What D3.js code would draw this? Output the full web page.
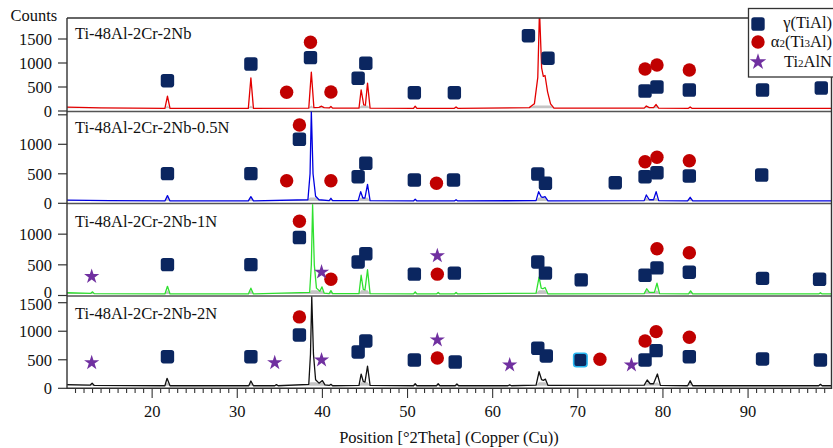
<!DOCTYPE html>
<html>
<head>
<meta charset="utf-8">
<script src="https://cdn.jsdelivr.net/npm/d3@7"></script>
<style>
  body { margin: 0; background: #fff; }
  svg text { font-family: "Liberation Serif", "Times New Roman", serif; fill: #111; }
</style>
</head>
<body>
<svg id="chart" width="833" height="448"></svg>
<script>
// panel names and x ticks
var panelNames = ["Ti-48Al-2Cr-2Nb", "Ti-48Al-2Cr-2Nb-0.5N", "Ti-48Al-2Cr-2Nb-1N", "Ti-48Al-2Cr-2Nb-2N"];
var xTickLabels = [20, 30, 40, 50, 60, 70, 80, 90];
var legendLabels = ["γ(TiAl)", "α2(Ti3Al)", "Ti2AlN"];

// diffraction patterns, [2theta, counts]
var pattern1 = [[10,80],[14,65],[21.5,55],[21.8,310],[22.1,55],[31.3,55],[31.6,690],[31.9,55],[38.4,60],[38.7,810],[39.0,70],
  [39.6,75],[39.9,100],[40.2,70],[40.8,65],[41.0,95],[41.2,60],[44.3,60],[44.55,440],[44.85,130],[45.05,120],[45.3,580],[45.6,60],
  [50.7,55],[50.9,100],[51.1,55],[55.5,55],[55.7,85],[55.9,55],[64.3,70],[64.9,150],[65.3,700],[65.5,2100],[65.75,900],[65.95,720],
  [66.15,740],[66.45,400],[66.8,150],[67.2,60],[77.8,60],[78.05,105],[78.4,70],[78.9,70],[79.2,135],[79.5,60],[83.0,55],[83.2,85],
  [83.4,55],[99.8,55]];
var pattern2 = [[10,55],[15,45],[21.5,40],[21.8,130],[22.1,40],[31.3,40],[31.6,112],[31.9,40],[38.3,60],[38.55,500],[38.7,1560],
  [38.9,500],[39.2,120],[39.6,60],[40.8,45],[41.0,85],[41.2,45],[44.2,45],[44.5,197],[44.75,90],[45.0,90],[45.3,322],[45.6,45],
  [50.7,40],[50.9,70],[51.1,40],[55.5,40],[55.7,60],[55.9,40],[65.1,45],[65.4,197],[65.7,110],[65.9,100],[66.15,112],[66.5,40],
  [77.8,45],[78.05,141],[78.4,60],[78.9,60],[79.2,197],[79.5,45],[82.9,40],[83.2,102],[83.5,40],[99.8,40]];
var pattern3 = [[10,45],[12.8,35],[13.0,60],[13.2,30],[21.5,25],[21.8,150],[22.1,25],[31.3,25],[31.6,120],[31.9,25],[38.5,50],
  [38.7,500],[38.85,1480],[39.05,500],[39.3,120],[39.7,70],[39.95,140],[40.2,40],[40.8,30],[41.0,80],[41.2,30],[44.3,30],
  [44.55,330],[44.8,100],[45.0,90],[45.3,420],[45.6,30],[50.7,25],[50.9,60],[51.1,25],[53.4,25],[53.6,50],[53.8,25],[55.5,25],
  [55.7,50],[55.9,25],[65.1,40],[65.45,300],[65.7,120],[65.9,110],[66.15,130],[66.5,25],[77.8,30],[78.1,110],[78.4,50],[79.0,50],
  [79.3,200],[79.6,30],[83.0,25],[83.25,75],[83.5,25],[98.3,25],[98.5,45],[98.7,25],[99.8,25]];
var pattern4 = [[10,65],[12.7,55],[12.95,90],[13.2,50],[21.5,45],[21.75,175],[22.1,45],[31.35,45],[31.6,128],[31.9,45],[34.4,45],
  [34.6,65],[34.8,45],[38.4,70],[38.6,600],[38.75,1600],[38.95,600],[39.2,150],[39.6,90],[40.0,135],[40.3,60],[40.8,50],[41.0,70],
  [41.2,45],[44.3,50],[44.55,250],[44.8,120],[45.0,110],[45.3,390],[45.6,50],[50.7,45],[50.9,80],[51.1,45],[53.4,45],[53.6,80],
  [53.8,45],[55.6,45],[55.8,75],[56.0,45],[61.8,45],[62.0,60],[62.2,45],[65.1,55],[65.45,290],[65.75,150],[65.95,140],[66.2,160],
  [66.5,50],[77.8,55],[78.15,145],[78.5,80],[78.9,80],[79.35,250],[79.7,50],[82.9,45],[83.2,133],[83.5,45],[98.3,45],[98.5,70],
  [98.7,45],[99.8,45]];

// phase markers, [2theta, counts]
var gamma1 = [[21.8,631],[31.6,979],[38.6,1111],[44.2,681],[45.1,994],[50.8,381],[55.5,381],[64.2,1569],[66.5,1098],
  [77.9,417],[79.3,500],[83.1,437],[91.7,437],[98.6,479]];
var alpha1 = [[35.8,390],[38.6,1431],[41.0,396],[77.9,875],[79.3,958],[83.1,854]];
var gamma2 = [[21.8,503],[31.6,503],[37.3,1085],[44.2,451],[45.1,678],[50.8,395],[55.4,395],[65.3,497],[66.2,339],
  [74.4,349],[77.9,451],[79.3,519],[83.1,463],[91.6,480]];
var alpha2 = [[35.8,383],[37.3,1327],[41.0,383],[53.4,339],[77.9,705],[79.3,780],[83.1,722]];
var gamma3 = [[21.8,503],[31.6,503],[37.3,945],[44.2,547],[45.1,680],[50.8,348],[55.5,365],[65.3,547],[66.2,365],
  [70.4,255],[77.9,330],[79.3,450],[83.1,380],[91.7,280],[98.4,265]];
var alpha3 = [[37.3,1210],[41.0,265],[53.5,348],[79.3,763],[83.1,697]];
var nitride3 = [[12.9,310],[39.9,381],[53.5,647]];
var gamma4 = [[21.8,554],[31.6,554],[37.3,935],[44.2,637],[45.1,830],[50.8,496],[55.6,461],[65.3,702],[66.3,567],
  [70.3,496],[77.9,496],[79.2,660],[83.1,554],[91.7,514],[98.5,496]];
var alpha4 = [[37.3,1251],[53.5,532],[72.6,509],[77.9,830],[79.2,993],[83.1,895]];
var nitride4 = [[12.9,449],[34.4,449],[39.9,496],[53.5,848],[62.0,409],[76.3,409]];

var navy = "#0b2660", red = "#c00000", purple = "#7030a0";
var sq = 13.4, cr = 6.7;

var svg = d3.select("#chart");
var x = d3.scaleLinear().domain([10, 99.8]).range([67, 831.5]);

var panels = [
  {name: panelNames[0], data: pattern1, gamma: gamma1, alpha: alpha1, nitride: [], color: "#e30000", bg: 55,
   y: d3.scaleLinear().domain([0, 1500]).range([111, 39]), top: 18, bottom: 111.5, ticks: [0, 500, 1000, 1500], labelY: 38.5},
  {name: panelNames[1], data: pattern2, gamma: gamma2, alpha: alpha2, nitride: [], color: "#0000e0", bg: 40,
   y: d3.scaleLinear().domain([0, 1500]).range([203.3, 114.8]), top: 111.5, bottom: 203.5, ticks: [0, 500, 1000], labelY: 133},
  {name: panelNames[2], data: pattern3, gamma: gamma3, alpha: alpha3, nitride: nitride3, color: "#2fe02f", bg: 25,
   y: d3.scaleLinear().domain([0, 1500]).range([295.5, 203.5]), top: 203.5, bottom: 296, ticks: [0, 500, 1000], labelY: 226.5},
  {name: panelNames[3], data: pattern4, gamma: gamma4, alpha: alpha4, nitride: nitride4, color: "#111", bg: 45,
   y: d3.scaleLinear().domain([0, 1500]).range([388.3, 302.7]), top: 296, bottom: 388.3, ticks: [0, 500, 1000, 1500], labelY: 319}
];

var defs = svg.append("defs");

panels.forEach(function(p, i) {
  defs.append("clipPath").attr("id", "clip" + i)
    .append("rect").attr("x", 67).attr("y", p.top).attr("width", 831.5 - 67).attr("height", p.bottom - p.top);

  var g = svg.append("g");

  // y ticks
  g.selectAll(".tk").data(p.ticks.concat(i == 1 ? [1500] : [])).enter().append("line")
    .attr("x1", 58).attr("x2", 67)
    .attr("y1", function(d) { return p.y(d); }).attr("y2", function(d) { return p.y(d); })
    .attr("stroke", "#333").attr("stroke-width", 1.2);
  g.selectAll(".tl").data(p.ticks).enter().append("text")
    .attr("x", 52)
    .attr("y", function(d) {
      // the two labels where panels 3 and 4 meet sit a little apart in the original
      if (i == 2 && d == 0) return p.y(d) - 3.5;
      if (i == 3 && d == 1500) return p.y(d) + 1;
      return p.y(d);
    })
    .attr("dy", "0.36em")
    .attr("text-anchor", "end").style("font-size", "16.5px")
    .text(function(d) { return d; });

  // panel separator
  if (i < 3) {
    g.append("line").attr("x1", 67).attr("x2", 831.5).attr("y1", p.bottom).attr("y2", p.bottom)
      .attr("stroke", "#555").attr("stroke-width", 1.3);
  }

  var plot = g.append("g").attr("clip-path", "url(#clip" + i + ")");

  // grey fill at the foot of each peak
  var area = d3.area()
    .x(function(d) { return x(d[0]); })
    .y0(p.y(p.bg))
    .y1(function(d) { return p.y(Math.min(d[1], p.bg + 60)); });
  plot.append("path").datum(p.data).attr("d", area).attr("fill", "#c4c4c4");

  var line = d3.line().x(function(d) { return x(d[0]); }).y(function(d) { return p.y(d[1]); });
  plot.append("path").datum(p.data).attr("d", line)
    .attr("fill", "none").attr("stroke", p.color).attr("stroke-width", 1.3).attr("stroke-linejoin", "round");

  g.append("text").attr("x", 75).attr("y", p.labelY).style("font-size", "16.5px").text(p.name);

  // markers
  g.selectAll(".sq").data(p.gamma).enter().append("rect")
    .attr("x", function(d) { return x(d[0]) - sq / 2; }).attr("y", function(d) { return p.y(d[1]) - sq / 2; })
    .attr("width", sq).attr("height", sq).attr("rx", 2.8)
    .attr("fill", navy)
    .attr("stroke", function(d) { return (i == 3 && d[0] == 70.3) ? "#29b6f0" : "none"; })
    .attr("stroke-width", 1.6);
  g.selectAll(".ci").data(p.alpha).enter().append("circle")
    .attr("cx", function(d) { return x(d[0]); }).attr("cy", function(d) { return p.y(d[1]); })
    .attr("r", cr).attr("fill", red);
  g.selectAll(".st").data(p.nitride).enter().append("path")
    .attr("d", d3.symbol(d3.symbolStar, 72)())
    .attr("transform", function(d) { return "translate(" + x(d[0]) + "," + p.y(d[1]) + ")"; })
    .attr("fill", purple);
});

// frame
var frame = svg.append("g").attr("stroke", "#333").attr("stroke-width", 1.4).attr("fill", "none");
frame.append("path").attr("d", "M67,18H748.5");
frame.append("path").attr("d", "M67,18V388.3H831.5V77");

// x axis ticks
var minor = d3.range(11, 100);
svg.selectAll(".xt").data(minor).enter().append("line")
  .attr("x1", function(d) { return x(d); }).attr("x2", function(d) { return x(d); })
  .attr("y1", 388.3).attr("y2", function(d) { return d % 10 == 0 ? 398 : 393; })
  .attr("stroke", "#333").attr("stroke-width", 1.1);
svg.selectAll(".xl").data(xTickLabels).enter().append("text")
  .attr("x", function(d) { return x(d); }).attr("y", 416.5)
  .attr("text-anchor", "middle").style("font-size", "16.5px")
  .text(function(d) { return d; });

svg.append("text").attr("x", 449).attr("y", 443).attr("text-anchor", "middle").style("font-size", "16.5px")
  .text("Position [°2Theta] (Copper (Cu))");
svg.append("text").attr("x", 10.5).attr("y", 21).style("font-size", "16.5px").text("Counts");

// legend
svg.append("rect").attr("x", 748.5).attr("y", 8.5).attr("width", 100).attr("height", 68.5)
  .attr("fill", "#fff").attr("stroke", "#333").attr("stroke-width", 1.3);
svg.append("rect").attr("x", 758 - sq / 2).attr("y", 24 - sq / 2).attr("width", sq).attr("height", sq).attr("rx", 2.8).attr("fill", navy);
svg.append("circle").attr("cx", 758).attr("cy", 42).attr("r", cr).attr("fill", red);
svg.append("path").attr("d", d3.symbol(d3.symbolStar, 85)()).attr("transform", "translate(758,62)").attr("fill", purple);

var lt1 = svg.append("text").attr("x", 832).attr("y", 28).attr("text-anchor", "end").style("font-size", "16.5px").text(legendLabels[0]);
var lt2 = svg.append("text").attr("x", 832).attr("y", 47).attr("text-anchor", "end").style("font-size", "16.5px");
lt2.append("tspan").text("α");
lt2.append("tspan").style("font-size", "11px").text("2");
lt2.append("tspan").text("(Ti");
lt2.append("tspan").style("font-size", "11px").text("3");
lt2.append("tspan").text("Al)");
var lt3 = svg.append("text").attr("x", 832).attr("y", 67).attr("text-anchor", "end").style("font-size", "16.5px");
lt3.append("tspan").text("Ti");
lt3.append("tspan").style("font-size", "11px").text("2");
lt3.append("tspan").text("AlN");
</script>
</body>
</html>
